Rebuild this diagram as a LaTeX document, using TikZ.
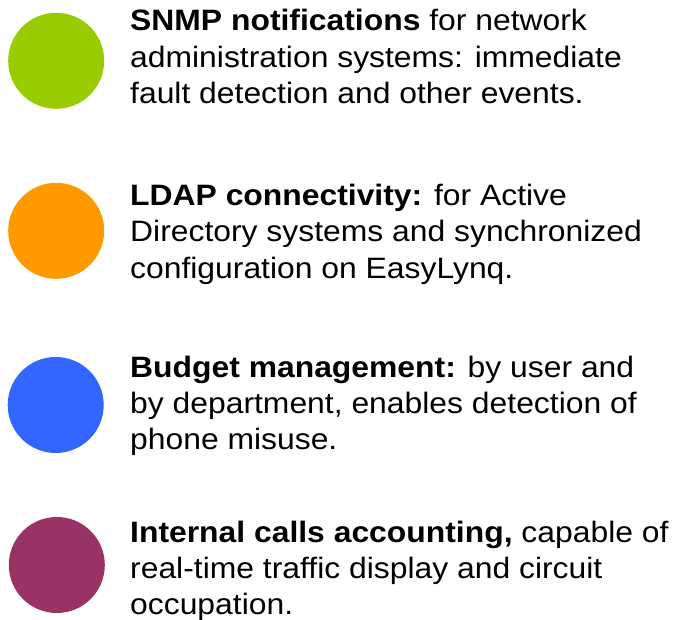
\documentclass[tikz,border=0pt]{standalone}
\usepackage{fontspec}
\setmainfont[FakeStretch=1.08]{Liberation Sans}
\definecolor{cgreen}{HTML}{99CC00}
\definecolor{corange}{HTML}{FF9900}
\definecolor{cblue}{HTML}{3366FF}
\definecolor{cpurple}{HTML}{993366}
\tikzset{
  dot/.style={circle, minimum size=96pt, inner sep=0pt, fill=#1},
  txt/.style={anchor=base west, align=left, inner sep=0pt,
    font=\fontsize{29.5}{36.3}\selectfont}
}
\begin{document}
\begin{tikzpicture}[x=1pt,y=1pt]
\useasboundingbox (0,0) rectangle (674,620);
\node[dot=cgreen] (c1) at (56.2,559.2) {};
\node[dot=corange] (c2) at (56.2,389.2) {};
\node[dot=cblue] (c3) at (55.7,215) {};
\node[dot=cpurple] (c4) at (56.8,55) {};
\node[txt] (t1) at (130,516.5) {\textbf{SNMP notifications} for network\\administration systems: immediate\\fault detection and other events.};
\node[txt] (t2) at (130,341.7) {\textbf{LDAP connectivity:} for Active\\Directory systems and synchronized\\configuration on EasyLynq.};
\node[txt] (t3) at (130,170) {\textbf{Budget management:} by user and\\by department, enables detection of\\phone misuse.};
\node[txt] (t4) at (130,5) {\textbf{Internal calls accounting,} capable of\\real-time traffic display and circuit\\occupation.};
\end{tikzpicture}
\end{document}
